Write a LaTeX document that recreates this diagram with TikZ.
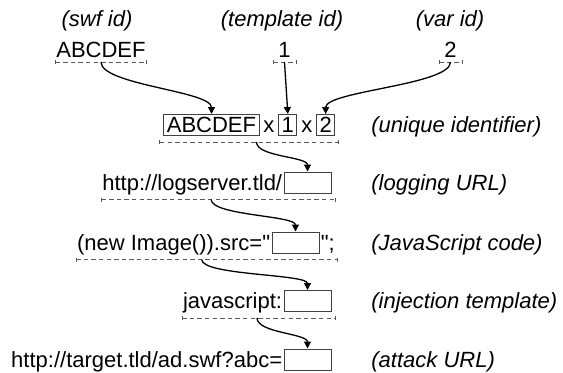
\documentclass[tikz,border=0pt]{standalone}
\usepackage{fontspec}
\setmainfont{Liberation Sans}[Ligatures=TeXOff]
\usetikzlibrary{arrows.meta}
\usetikzlibrary{positioning}

\begin{document}
\begin{tikzpicture}[x=0.5pt,y=-0.5pt,
	txt/.style={inner xsep=0.5pt,inner ysep=0pt,font=\fontsize{11}{13}\selectfont},
	note/.style={txt,font=\fontsize{11}{13}\selectfont\itshape},
	slot/.style={txt,draw=black!75,line width=0.5pt,inner xsep=1.5pt,inner ysep=1.3pt,text height=7.9pt,text depth=0pt},
	hole/.style={slot,minimum width=23.5pt},
	uline/.style={draw=black!65,line width=0.4pt,dash pattern=on 2.2pt off 1.6pt,{Bar[width=2pt]}-{Bar[width=2pt]}},
	flow/.style={-{Triangle[length=3.5pt,width=3.5pt]},line width=0.65pt}]
	
	\useasboundingbox (0,0) rectangle (563,372);
	
	% Draw the three parts
	\node[note,anchor=base] (swfnote) at (97,26) {(swf id)};
	\node[note,anchor=base] (tplnote) at (282,26) {(template id)};
	\node[note,anchor=base] (varnote) at (450,26) {(var id)};
	\node[txt,anchor=base] (swf) at (101,57) {ABCDEF};
	\node[txt,anchor=base,minimum width=11.5pt] (tpl) at (284.5,57) {1};
	\node[txt,anchor=base,minimum width=11.5pt] (var) at (450.5,57) {2};
	\draw[uline] ([yshift=-2.5pt]swf.base west) -- coordinate (swfout) ([yshift=-2.5pt]swf.base east);
	\draw[uline] ([yshift=-2.5pt]tpl.base west) -- coordinate (tplout) ([yshift=-2.5pt]tpl.base east);
	\draw[uline] ([yshift=-2.5pt]var.base west) -- coordinate (varout) ([yshift=-2.5pt]var.base east);
	
	% Draw unique identifier
	\node[slot] (uswf) at (211.5,125) {ABCDEF};
	\node[txt,inner xsep=0pt,base right=1.7pt of uswf] (ux1) {x};
	\node[slot,base right=1.7pt of ux1] (utpl) {1};
	\node[txt,inner xsep=0pt,base right=1.7pt of utpl] (ux2) {x};
	\node[slot,base right=1.7pt of ux2] (uvar) {2};
	\node[note,anchor=base west] (unote) at (370,0 |- uswf.base) {(unique identifier)};
	\draw[uline] ([xshift=-2pt,yshift=-3pt]uswf.south west) -- coordinate[pos=.54] (uout) ([xshift=2pt,yshift=-3pt]uvar.south east);
	
	% Draw logging URL
	\node[hole] (lbox) at (307.5,182.5) {};
	\node[txt,base left=0pt of lbox] (ltxt) {http://logserver.tld/};
	\node[note,anchor=base west] (lnote) at (370,0 |- lbox.base) {(logging URL)};
	\draw[uline] ([yshift=-3pt]ltxt.west |- lbox.south) -- coordinate[pos=.47] (lout) ([xshift=2pt,yshift=-3pt]lbox.south east);
	
	% Draw JavaScript code
	\node[hole] (jbox) at (295.5,242.5) {};
	\node[txt,base left=0pt of jbox] (jtxt) {(new Image()).src="};
	\node[txt,base right=0pt of jbox] (jend) {";};
	\node[note,anchor=base west] (jnote) at (370,0 |- jbox.base) {(JavaScript code)};
	\draw[uline] ([yshift=-3pt]jtxt.west |- jbox.south) -- coordinate[pos=.48] (jout) ([xshift=1pt,yshift=-3pt]jend.east |- jbox.south);
	
	% Draw injection template
	\node[hole] (ibox) at (307.5,301) {};
	\node[txt,base left=0pt of ibox] (itxt) {javascript:};
	\node[note,anchor=base west] (inote) at (370,0 |- ibox.base) {(injection template)};
	\draw[uline] ([yshift=-3pt]itxt.west |- ibox.south) -- coordinate[pos=.49] (iout) ([xshift=2pt,yshift=-3pt]ibox.south east);
	
	% Draw attack URL
	\node[hole] (abox) at (307.5,359.5) {};
	\node[txt,base left=0pt of abox] (atxt) {http://target.tld/ad.swf?abc=};
	\node[note,anchor=base west] (anote) at (370,0 |- abox.base) {(attack URL)};
	
	% Draw arrows
	\draw[flow] (swfout) .. controls +(0,23) and +(0,-23) .. (uswf.north);
	\draw[flow] (tplout) -- (utpl.north);
	\draw[flow] (varout) .. controls +(0,23) and +(0,-23) .. (uvar.north);
	\draw[flow] (uout) .. controls +(0,15) and +(0,-15) .. (lbox.north);
	\draw[flow] (lout) .. controls +(0,16) and +(0,-16) .. (jbox.north);
	\draw[flow] (jout) .. controls +(0,16) and +(0,-16) .. (ibox.north);
	\draw[flow] (iout) .. controls +(0,15) and +(0,-15) .. (abox.north);
	
\end{tikzpicture}
\end{document}
